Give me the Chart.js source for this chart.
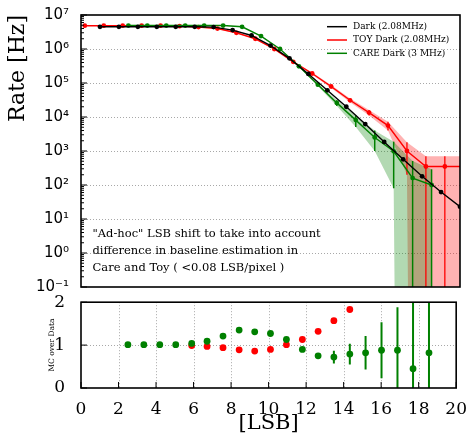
<!DOCTYPE html>
<html>
<head>
<meta charset="utf-8">
<script src="https://cdn.jsdelivr.net/npm/chart.js@4.4.1/dist/chart.umd.min.js"></script>
<style>
  html, body { margin: 0; padding: 0; background: #fff; }
  #wrap { position: relative; width: 470px; height: 437px; }
  canvas { position: absolute; left: 0; }
  #ratioChart { top: 284px; }
  #rateChart { top: 0; }
</style>
</head>
<body>
<div id="wrap">
  <canvas id="ratioChart" width="470" height="153"></canvas>
  <canvas id="rateChart" width="470" height="300"></canvas>
</div>
<script>
// ---------------- DATA ----------------
const darkLSB  = [1, 2, 3, 4, 5, 6, 7, 8, 9, 10, 11, 12, 13, 14, 15, 16, 17, 18, 19, 20];
const darkRate = [4.5e6, 4.5e6, 4.5e6, 4.5e6, 4.5e6, 4.5e6, 4.4e6, 3.6e6, 2.5e6, 1.26e6,
                  5.3e5, 1.85e5, 6.1e4, 2.0e4, 6.2e3, 1.85e3, 5.7e2, 1.8e2, 62, 23];

const toyLSB  = [0.2, 1.2, 2.2, 3.2, 4.2, 5.2, 6.2, 7.2, 8.2, 9.2, 10.2, 11.2, 12.2, 13.2,
                 14.2, 15.2, 16.2, 17.2, 18.2, 19.2, 20.2];
const toyRate = [4.85e6, 4.85e6, 4.85e6, 4.85e6, 4.85e6, 4.7e6, 4.4e6, 4.0e6, 3.0e6, 2.0e6,
                 1.0e6, 4.2e5, 1.9e5, 7.9e4, 3.1e4, 1.35e4, 5.6e3, 1.0e3, 350, 350, 350];
const toyErr  = [1e5, 1e5, 1e5, 1e5, 1e5, 1e5, 1e5, 1e5, 8e4, 6e4,
                 4e4, 2.5e4, 1.5e4, 8e3, 4e3, 2.5e3, 1.6e3, 800, 350, 350, 350];

const careLSB  = [2.5, 3.5, 4.5, 5.5, 6.5, 7.5, 8.5, 9.5, 10.5, 11.5, 12.5, 13.5, 14.5,
                  15.5, 16.5, 17.5, 18.5];
const careRate = [4.9e6, 4.9e6, 4.9e6, 4.9e6, 4.9e6, 4.9e6, 4.5e6, 2.4e6, 1.0e6, 3.1e5,
                  8.9e4, 2.6e4, 8.1e3, 2.5e3, 980, 160, 100];
const careErr  = [5e4, 5e4, 5e4, 5e4, 5e4, 5e4, 5e4, 4e4, 2.5e4, 1.5e4,
                  8e3, 5e3, 3e3, 1.5e3, 900, 350, 190];

// MC / data ratio
const ratioLSB     = [2.5, 3.35, 4.2, 5.05, 5.9, 6.72, 7.57, 8.43, 9.26, 10.1, 10.95, 11.8,
                      12.64, 13.48, 14.33, 15.17, 16.02, 16.87, 17.7, 18.55];
const careRatio    = [1.01, 1.01, 1.01, 1.01, 1.04, 1.09, 1.21, 1.35, 1.31, 1.27, 1.13, 0.90,
                      0.75, 0.72, 0.79, 0.82, 0.88, 0.88, 0.45, 0.82];
const careRatioErr = [0, 0, 0, 0, 0, 0, 0, 0, 0, 0, 0, 0.02,
                      0.04, 0.15, 0.24, 0.39, 0.65, 1.0, 2.5, 2.5];
const toyRatioLSB  = [5.9, 6.72, 7.57, 8.43, 9.26, 10.1, 10.95, 11.8, 12.64, 13.48, 14.33];
const toyRatio     = [0.99, 0.97, 0.94, 0.89, 0.86, 0.90, 1.01, 1.13, 1.32, 1.57, 1.83];
const toyRatioErr  = [0, 0, 0, 0, 0, 0, 0, 0, 0, 0.02, 0.06];

// axes
const rateTicks      = [1e-1, 1, 10, 1e2, 1e3, 1e4, 1e5, 1e6, 1e7];
const rateTickLabels = ['10⁻¹', '10⁰', '10¹', '10²', '10³', '10⁴', '10⁵', '10⁶', '10⁷'];
const lsbTicks   = [0, 2, 4, 6, 8, 10, 12, 14, 16, 18, 20];
const ratioTicks = [0, 1, 2];

const noteLines = [
  '"Ad-hoc" LSB shift to take into account',
  'difference in baseline estimation in',
  'Care and Toy ( <0.08 LSB/pixel )'
];

// ---------------- HELPERS ----------------
Chart.defaults.font.family = '"DejaVu Serif"';
Chart.defaults.color = '#000';

const pts = (xs, ys) => xs.map((x, i) => ({ x: x, y: ys[i] }));
// log axis: a lower edge at or below zero drops off the bottom of the plot
const edge = (xs, ys, es, s) => xs.map((x, i) => ({ x: x, y: Math.max(ys[i] + s * es[i], 1e-60) }));

// error bars, drawn just before the dataset's markers
const errorBars = {
  id: 'errorBars',
  beforeDatasetDraw(chart, args) {
    const ds = chart.data.datasets[args.index];
    if (!ds.errs) return;
    const { ctx, chartArea: a } = chart;
    const xs = chart.scales.x, ys = chart.scales.y;
    const isLog = ys.type === 'logarithmic';
    ctx.save();
    ctx.beginPath();
    ctx.rect(a.left, a.top, a.right - a.left, a.bottom - a.top);
    ctx.clip();
    ctx.strokeStyle = ds.errColor;
    ctx.lineWidth = ds.errWidth;
    ds.data.forEach((p, i) => {
      const e = ds.errs[i];
      if (!e) return;
      const px = xs.getPixelForValue(p.x);
      const lo = p.y - e;
      const y1 = ys.getPixelForValue(p.y + e);
      const y2 = (!isLog || lo > 0) ? ys.getPixelForValue(lo) : a.bottom + 5;
      ctx.beginPath();
      ctx.moveTo(px, y1);
      ctx.lineTo(px, y2);
      ctx.stroke();
    });
    ctx.restore();
  }
};

// dotted grid under the data, black frame and inward ticks on top
const frame = {
  id: 'frame',
  beforeDatasetsDraw(chart, args, o) {
    const { ctx, chartArea: a } = chart;
    const x = chart.scales.x, y = chart.scales.y;
    ctx.save();
    ctx.strokeStyle = '#a8a8a8';
    ctx.lineWidth = 1;
    ctx.setLineDash([1, 2]);
    (o.yGrid || []).forEach(v => {
      const p = Math.round(y.getPixelForValue(v)) + 0.5;
      ctx.beginPath(); ctx.moveTo(a.left, p); ctx.lineTo(a.right, p); ctx.stroke();
    });
    (o.xGrid || []).forEach(v => {
      const p = Math.round(x.getPixelForValue(v)) + 0.5;
      ctx.beginPath(); ctx.moveTo(p, a.top); ctx.lineTo(p, a.bottom); ctx.stroke();
    });
    ctx.restore();
  },
  afterDraw(chart, args, o) {
    const { ctx, chartArea: a } = chart;
    const x = chart.scales.x, y = chart.scales.y;
    const seg = (x1, y1, x2, y2) => { ctx.beginPath(); ctx.moveTo(x1, y1); ctx.lineTo(x2, y2); ctx.stroke(); };
    ctx.save();
    ctx.strokeStyle = '#000';
    ctx.lineWidth = 1;
    (o.yMajor || []).forEach(v => { const p = y.getPixelForValue(v); seg(a.left, p, a.left + 6, p); });
    (o.yMinor || []).forEach(v => { const p = y.getPixelForValue(v); seg(a.left, p, a.left + 3, p); });
    (o.xMajor || []).forEach(v => { const p = x.getPixelForValue(v); seg(p, a.bottom, p, a.bottom - 6); });
    ctx.lineWidth = 1.6;
    ctx.strokeRect(a.left, a.top, a.right - a.left, a.bottom - a.top);
    ctx.restore();
  }
};

// legend in the upper right corner and the note text
const notes = {
  id: 'notes',
  afterDatasetsDraw(chart) {
    const { ctx, chartArea: a } = chart;
    ctx.save();
    ctx.textBaseline = 'middle';
    ctx.fillStyle = '#000';
    ctx.font = '9px "DejaVu Serif"';
    chart.data.datasets.filter(d => d.label).forEach((d, i) => {
      const yy = a.top + 11.7 + i * 13.3;
      ctx.strokeStyle = d.borderColor;
      ctx.lineWidth = 1.5;
      ctx.beginPath();
      ctx.moveTo(a.right - 133, yy);
      ctx.lineTo(a.right - 113, yy);
      ctx.stroke();
      ctx.fillText(d.label, a.right - 107, yy);
    });
    ctx.font = '11.5px "DejaVu Serif"';
    noteLines.forEach((t, i) => ctx.fillText(t, a.left + 11.5, a.top + 219 + i * 17));
    ctx.restore();
  }
};

const rateMinor = [];
rateTicks.slice(0, -1).forEach(d => { for (let k = 2; k < 10; k++) rateMinor.push(d * k); });

// ---------------- RATE PANEL ----------------
new Chart(document.getElementById('rateChart'), {
  type: 'line',
  data: {
    datasets: [
      { label: 'Dark (2.08MHz)', data: pts(darkLSB, darkRate), borderColor: '#000', backgroundColor: '#000',
        borderWidth: 1.4, pointRadius: 2.4, pointBorderWidth: 0, order: 1 },
      { label: 'TOY Dark (2.08MHz)', data: pts(toyLSB, toyRate), borderColor: '#ff0000', backgroundColor: '#ff0000',
        borderWidth: 1.4, pointRadius: 2.4, pointBorderWidth: 0, order: 3,
        errs: toyErr, errColor: '#ff0000', errWidth: 1.3 },
      { label: 'CARE Dark (3 MHz)', data: pts(careLSB, careRate), borderColor: '#008000', backgroundColor: '#008000',
        borderWidth: 1.4, pointRadius: 2.4, pointBorderWidth: 0, order: 2,
        errs: careErr, errColor: '#008000', errWidth: 1.5 },
      // bands
      { data: edge(toyLSB, toyRate, toyErr, 1), borderWidth: 0, pointRadius: 0, fill: false, order: 9 },
      { data: edge(toyLSB, toyRate, toyErr, -1), borderWidth: 0, pointRadius: 0, fill: '-1',
        backgroundColor: 'rgba(255,0,0,0.3)', order: 9 },
      { data: edge(careLSB, careRate, careErr, 1), borderWidth: 0, pointRadius: 0, fill: false, order: 8 },
      { data: edge(careLSB, careRate, careErr, -1), borderWidth: 0, pointRadius: 0, fill: '-1',
        backgroundColor: 'rgba(0,128,0,0.3)', order: 8 }
    ]
  },
  options: {
    responsive: false,
    animation: false,
    devicePixelRatio: 1,
    events: [],
    layout: { padding: { left: 0, right: 10, top: 15, bottom: 0 } },
    plugins: {
      legend: { display: false }, tooltip: { enabled: false },
      frame: { yMajor: rateTicks, yMinor: rateMinor, yGrid: rateTicks.slice(1, -1) }
    },
    scales: {
      x: {
        type: 'linear', min: 0, max: 20,
        grid: { display: false },
        border: { display: false },
        ticks: { display: false },
        afterFit: s => { s.height = 11.5; }
      },
      y: {
        type: 'logarithmic', min: 0.1, max: 1e7,
        afterBuildTicks: s => { s.ticks = rateTicks.map(v => ({ value: v })); },
        ticks: {
          autoSkip: false, padding: 4,
          font: { family: '"DejaVu Sans"', size: 15 },
          callback: (v, i) => rateTickLabels[i]
        },
        grid: { display: false },
        border: { display: false },
        title: { display: true, text: 'Rate [Hz]', align: 'end',
                 font: { family: '"DejaVu Serif"', size: 22 }, padding: { top: 5, bottom: 0 } },
        afterFit: s => { s.width = 81; }
      }
    }
  },
  plugins: [errorBars, notes, frame]
});

// ---------------- RATIO PANEL ----------------
new Chart(document.getElementById('ratioChart'), {
  type: 'line',
  data: {
    datasets: [
      { data: pts(ratioLSB, careRatio), showLine: false, pointRadius: 3.4, pointBorderWidth: 0,
        pointBackgroundColor: '#008000', borderColor: '#008000', order: 1,
        errs: careRatioErr, errColor: '#008000', errWidth: 2 },
      { data: pts(toyRatioLSB, toyRatio), showLine: false, pointRadius: 3.4, pointBorderWidth: 0,
        pointBackgroundColor: '#ff0000', borderColor: '#ff0000', order: 2,
        errs: toyRatioErr, errColor: '#ff0000', errWidth: 2 }
    ]
  },
  options: {
    responsive: false,
    animation: false,
    devicePixelRatio: 1,
    events: [],
    layout: { padding: { left: 0, right: 10, top: 13, bottom: 0 } },
    plugins: {
      legend: { display: false }, tooltip: { enabled: false },
      frame: { yMajor: ratioTicks, xMajor: lsbTicks, yGrid: [1], xGrid: lsbTicks.slice(1, -1) }
    },
    scales: {
      x: {
        type: 'linear', min: 0, max: 20,
        afterBuildTicks: s => { s.ticks = lsbTicks.map(v => ({ value: v })); },
        ticks: { autoSkip: false, maxRotation: 0, padding: 3, font: { size: 17 } },
        grid: { display: false },
        border: { display: false },
        title: { display: true, text: '[LSB]', font: { size: 21 }, padding: { top: 0, bottom: 1 } },
        afterFit: s => { s.height = 49; }
      },
      y: {
        type: 'linear', min: 0, max: 2,
        afterBuildTicks: s => { s.ticks = ratioTicks.map(v => ({ value: v })); },
        ticks: { autoSkip: false, padding: 8, font: { size: 17 } },
        grid: { display: false },
        border: { display: false },
        title: { display: true, text: 'MC over Data', font: { size: 7.5 }, padding: { top: 48, bottom: 0 } },
        afterFit: s => { s.width = 81; }
      }
    }
  },
  plugins: [errorBars, frame]
});
</script>
</body>
</html>
